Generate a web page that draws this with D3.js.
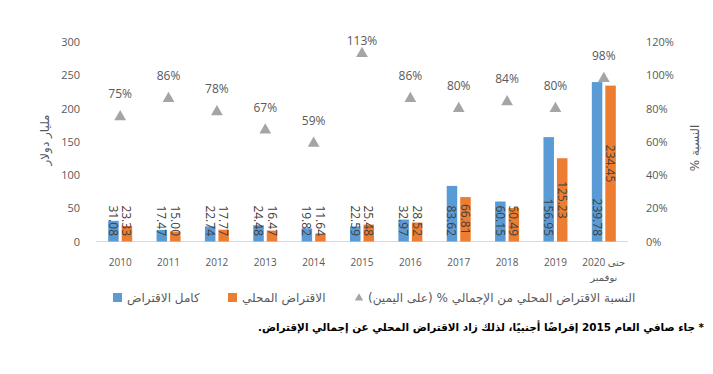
<!DOCTYPE html>
<html lang="ar">
<head>
  <meta charset="UTF-8">
  <title>الاقتراض المحلي</title>
  <script src="https://d3js.org/d3.v7.min.js"></script>
  <style>
    body {
      margin: 0;
      background: #fff;
    }
    text {
      font-family: "Open Sans", "DejaVu Sans", sans-serif;
      fill: #595959;
    }
    .ar {
      font-family: "DejaVu Sans", sans-serif;
    }
  </style>
</head>
<body>
  <script>
    // values
    const years = ["2010", "2011", "2012", "2013", "2014", "2015", "2016", "2017", "2018", "2019", "2020 حتى نوفمبر"];
    const totalBorrowing = [31.08, 17.47, 22.74, 24.48, 19.82, 22.59, 32.97, 83.62, 60.15, 156.95, 239.78];
    const domesticBorrowing = [23.33, 15.00, 17.77, 16.47, 11.64, 25.48, 28.52, 66.81, 50.49, 125.23, 234.45];
    const domesticShare = [75, 86, 78, 67, 59, 113, 86, 80, 84, 80, 98];
    const leftTicks = [0, 50, 100, 150, 200, 250, 300];
    const rightTicks = [0, 20, 40, 60, 80, 100, 120];

    const width = 713;
    const height = 374;
    const blue = "#5b9bd5";
    const orange = "#ed7d31";
    const grey = "#a5a5a5";

    const svg = d3.select("body")
      .append("svg")
      .attr("width", width)
      .attr("height", height);

    const x = d3.scaleBand().domain(years).range([96, 628]);
    const yLeft = d3.scaleLinear().domain([0, 300]).range([241.5, 42]);
    const yRight = d3.scaleLinear().domain([0, 120]).range([241.5, 42]);

    // left axis
    const gl = svg.append("g")
      .attr("transform", "translate(80,0)")
      .call(d3.axisLeft(yLeft).tickValues(leftTicks).tickSize(0).tickPadding(0));
    gl.select(".domain").remove();
    gl.selectAll("text").style("font-size", "11px").style("fill", "#595959")
      .style("font-family", "'Open Sans', sans-serif");

    // right axis
    const gr = svg.append("g")
      .attr("transform", "translate(646,0)")
      .call(d3.axisRight(yRight).tickValues(rightTicks).tickSize(0).tickPadding(0)
        .tickFormat(d => d + "%"));
    gr.select(".domain").remove();
    gr.selectAll("text").style("font-size", "11px").style("fill", "#595959")
      .style("font-family", "'Open Sans', sans-serif");

    // axis titles
    svg.append("text")
      .attr("class", "ar")
      .attr("transform", "translate(45,140) rotate(-90)")
      .attr("direction", "rtl")
      .attr("text-anchor", "middle")
      .attr("dominant-baseline", "central")
      .style("font-size", "12px")
      .text("مليار دولار");

    svg.append("text")
      .attr("class", "ar")
      .attr("transform", "translate(695,148) rotate(-90)")
      .attr("direction", "rtl")
      .attr("text-anchor", "middle")
      .attr("dominant-baseline", "central")
      .style("font-size", "12px")
      .text("النسبة %");

    const rows = years.map((y, i) => ({
      year: y, total: totalBorrowing[i], domestic: domesticBorrowing[i], share: domesticShare[i]
    }));

    const barW = 10.5;
    const cx = d => x(d.year) + x.bandwidth() / 2;

    // baseline
    svg.append("line")
      .attr("x1", 96).attr("x2", 628)
      .attr("y1", yLeft(0)).attr("y2", yLeft(0))
      .attr("stroke", "#d9d9d9").attr("stroke-width", 1);

    // bars
    svg.selectAll(".bar-total")
      .data(rows)
      .enter()
      .append("rect")
      .attr("x", d => cx(d) - 12)
      .attr("y", d => yLeft(d.total))
      .attr("width", barW)
      .attr("height", d => yLeft(0) - yLeft(d.total))
      .attr("fill", blue);

    svg.selectAll(".bar-dom")
      .data(rows)
      .enter()
      .append("rect")
      .attr("x", d => cx(d) + 1.5)
      .attr("y", d => yLeft(d.domestic))
      .attr("width", barW)
      .attr("height", d => yLeft(0) - yLeft(d.domestic))
      .attr("fill", orange);

    // bar labels, rotated, blue at inside base
    svg.selectAll(".lbl-total")
      .data(rows)
      .enter()
      .append("text")
      .attr("transform", d => `translate(${cx(d) - 6.75},236) rotate(90)`)
      .attr("text-anchor", "end")
      .attr("dominant-baseline", "central")
      .style("font-size", "12px")
      .style("fill", "#404040")
      .text(d => d.total.toFixed(2));

    // orange labels centred in bar, pushed up when too long
    svg.selectAll(".lbl-dom")
      .data(rows)
      .enter()
      .append("text")
      .attr("text-anchor", "middle")
      .attr("dominant-baseline", "central")
      .style("font-size", "12px")
      .style("fill", "#404040")
      .text(d => d.domestic.toFixed(2))
      .each(function (d) {
        const len = this.getComputedTextLength();
        const mid = (yLeft(d.domestic) + yLeft(0)) / 2;
        const c = Math.min(mid, 236 - len / 2);
        d3.select(this).attr("transform", `translate(${cx(d) + 6.75},${c}) rotate(90)`);
      });

    // share triangles
    const tri = d3.symbol().type(d3.symbolTriangle).size(60);
    svg.selectAll(".tri")
      .data(rows)
      .enter()
      .append("path")
      .attr("d", tri)
      .attr("transform", d => `translate(${cx(d)},${yRight(d.share)})`)
      .attr("fill", grey);

    // labels above the triangles, kept inside the plot top
    svg.selectAll(".lbl-share")
      .data(rows)
      .enter()
      .append("text")
      .attr("x", cx)
      .attr("y", d => Math.max(yRight(d.share) - 23, 40))
      .attr("text-anchor", "middle")
      .attr("dominant-baseline", "central")
      .style("font-size", "12px")
      .text(d => d.share + "%");

    // category labels
    svg.selectAll(".cat")
      .data(rows)
      .enter()
      .append("text")
      .attr("x", cx)
      .attr("y", 262)
      .attr("direction", "rtl")
      .attr("text-anchor", "middle")
      .attr("dominant-baseline", "central")
      .style("font-size", "10px")
      .each(function (d) {
        const parts = d.year.startsWith("2020") ? ["حتى 2020", "نوفمبر"] : [d.year];
        const t = d3.select(this);
        parts.forEach((p, i) => {
          t.append("tspan")
            .attr("x", cx(d))
            .attr("dy", i === 0 ? 0 : 15)
            .text(p);
        });
      });

    // legend
    const legend = [
      { label: "كامل الاقتراض", color: blue, shape: "rect", x: 113, tx: 127 },
      { label: "الاقتراض المحلي", color: orange, shape: "rect", x: 228, tx: 242 },
      { label: "النسبة الاقتراض المحلي من الإجمالي % (على اليمين)", color: grey, shape: "tri", x: 355, tx: 368 }
    ];
    const lg = svg.append("g");
    legend.forEach(l => {
      if (l.shape === "rect") {
        lg.append("rect").attr("x", l.x).attr("y", 293).attr("width", 9).attr("height", 9).attr("fill", l.color);
      } else {
        lg.append("path").attr("d", d3.symbol().type(d3.symbolTriangle).size(30))
          .attr("transform", `translate(${l.x + 4},298)`).attr("fill", l.color);
      }
      lg.append("text")
        .attr("class", "ar")
        .attr("x", l.tx)
        .attr("y", 298)
        .attr("dominant-baseline", "central")
        .attr("direction", "rtl")
        .attr("text-anchor", "end")
        .style("font-size", "12px")
        .text(l.label);
    });

    // footnote
    svg.append("text")
      .attr("x", 704)
      .attr("y", 327)
      .attr("direction", "rtl")
      .attr("text-anchor", "start")
      .attr("dominant-baseline", "central")
      .attr("textLength", 446)
      .attr("lengthAdjust", "spacingAndGlyphs")
      .style("font-size", "11px")
      .style("font-weight", "bold")
      .style("fill", "#000")
      .style("font-family", "'DejaVu Sans Condensed', 'DejaVu Sans', sans-serif")
      .text("* جاء صافي العام 2015 إقراضًا أجنبيًا، لذلك زاد الاقتراض المحلي عن إجمالي الإقتراض.");
  </script>
</body>
</html>
